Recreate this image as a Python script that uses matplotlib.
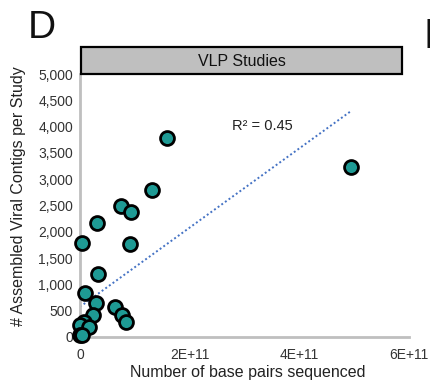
import numpy as np
import matplotlib
matplotlib.use("Agg")
import matplotlib.pyplot as plt
from matplotlib.patches import Rectangle

plt.rcParams['font.family'] = ['Liberation Sans', 'DejaVu Sans']

# Base pairs sequenced per study and assembled viral contigs
base_pairs = [1.59e11, 1.32e11, 7.4e10, 9.3e10, 3.1e10, 3.0e9, 9.1e10, 3.2e10,
              1.0e10, 2.9e10, 6.4e10, 7.6e10, 8.4e10, 2.4e10, 7.0e9, 0.0,
              1.65e10, 0.0, 3.0e9, 4.95e11]
contigs = [3782, 2803, 2500, 2380, 2172, 1793, 1761, 1206,
           830, 638, 565, 425, 290, 417, 290, 227,
           190, 40, 30, 3225]

# Linear trendline reported for the panel
trend_intercept = 574
trend_slope = 7.53e-9
r_squared = 0.45

panel_title = "VLP Studies"
x_ticks = [0, 2e11, 4e11, 6e11]
x_tick_labels = ["0", "2E+11", "4E+11", "6E+11"]
y_ticks = list(range(0, 5001, 500))

W, H = 431, 382
fig = plt.figure(figsize=(W / 100, H / 100), dpi=100)

left, right, bottom, top = 80, 409, 337, 74
ax = fig.add_axes([left / W, 1 - bottom / H, (right - left) / W, (bottom - top) / H])

x = np.array(base_pairs)
y = np.array(contigs)

xl = np.array([0.0, x.max()])
ax.plot(xl, trend_slope * xl + trend_intercept, linestyle=(0, (1, 1.3)),
        color='#4472C4', linewidth=1.4, zorder=2)

ax.scatter(x, y, s=100, facecolor='#1E9A94', edgecolor='black', linewidth=2.0,
           zorder=3, clip_on=False)

ax.set_xlim(0, 6e11)
ax.set_ylim(0, 5000)
ax.set_xticks(x_ticks)
ax.set_xticklabels(x_tick_labels)
ax.set_yticks(y_ticks)
ax.set_yticklabels([f"{v:,}" for v in y_ticks])
ax.tick_params(axis='y', length=0, labelsize=10, colors='#333333', pad=5)
ax.tick_params(axis='x', length=0, labelsize=10, colors='#333333', pad=8)

for side in ('top', 'right'):
    ax.spines[side].set_visible(False)
for side in ('left', 'bottom'):
    ax.spines[side].set_color('#BFBFBF')
    ax.spines[side].set_linewidth(2.0)

fig.text(247.5 / W, 1 - 373 / H, "Number of base pairs sequenced", fontsize=11.5,
         color='#222222', ha='center', va='center')
fig.text(18.5 / W, 1 - 196 / H, "# Assembled Viral Contigs per Study", fontsize=11.5,
         color='#222222', ha='center', va='center', rotation=90)

fig.text(232 / W, 1 - 130 / H, f"R\u00b2 = {r_squared}", fontsize=10.5,
         color='#222222', ha='left', va='baseline')

# Header strip above the plotting area
strip = Rectangle((81 / W, 1 - 74 / H), (402 - 81) / W, 27 / H,
                  transform=fig.transFigure, facecolor='#BFBFBF',
                  edgecolor='black', linewidth=1.6, clip_on=False)
fig.add_artist(strip)
fig.text((81 + 402) / 2 / W, 1 - 61 / H, panel_title, ha='center', va='center',
         fontsize=11.5, color='#111111')

# Panel letters
fig.text(28 / W, 1 - 38 / H, "D", fontsize=28, ha='left', va='baseline', color='#111111')
fig.text(423.5 / W, 1 - 48 / H, "E", fontsize=31, ha='left', va='baseline', color='#111111')

fig.savefig("out.png", dpi=100)
